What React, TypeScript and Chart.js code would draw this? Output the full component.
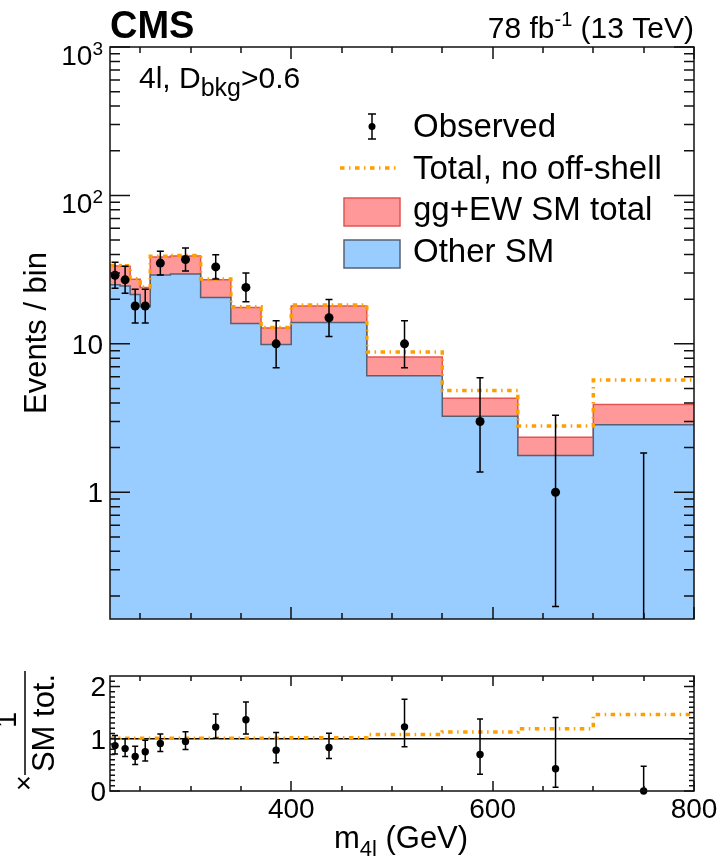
import React, { useEffect, useRef } from "react";
import { Chart, registerables } from "chart.js";

Chart.register(...registerables);

// ---------------- data ----------------
const binEdges = [220, 230, 240, 250, 260, 280, 310, 340, 370, 400, 475, 550, 625, 700, 800];
const otherSM = [25.0, 24.5, 21.5, 17.8, 29.1, 29.6, 20.5, 13.7, 9.9, 13.9, 6.1, 3.25, 1.77, 2.85];
const smTotal = [33.4, 33.3, 27.2, 24.0, 38.5, 39.0, 27.0, 17.6, 12.8, 18.0, 8.15, 4.3, 2.35, 3.9];
const totalNoOffShell = [33.7, 33.6, 27.5, 24.2, 38.9, 39.4, 27.3, 17.8, 12.9, 18.3, 8.8, 4.85, 2.8, 5.7];
const observed = [29, 27, 18, 18, 35, 37, 33, 24, 10, 15, 10, 3, 1, 0];
const obsLow = [23.7, 21.9, 13.8, 13.8, 29.1, 31.0, 27.3, 19.2, 6.9, 11.2, 6.9, 1.37, 0.17, 0];
const obsHigh = [35.5, 33.3, 23.3, 23.3, 42.0, 44.2, 39.8, 30.0, 14.3, 19.9, 14.3, 5.92, 3.3, 1.84];

const xMajorTicks = [400, 600, 800];
const xTickLabels = ["400", "600", "800"];
const xMinorTicks = [250, 300, 350, 450, 500, 550, 650, 700, 750];
const mainYMajor = [1, 10, 100, 1000];
const mainYLabelBase = ["1", "10", "10", "10"];
const mainYLabelExp = ["", "", "2", "3"];
const ratioYMajor = [0, 1, 2];
const ratioYLabels = ["0", "1", "2"];

// ---------------- styling ----------------
const FONT = '"Liberation Sans", Arial, Helvetica, sans-serif';
const RED_FILL = "rgb(255,153,153)";
const RED_LINE = "rgb(225,85,85)";
const BLUE_FILL = "rgb(153,204,255)";
const BLUE_LINE = "rgb(85,98,118)";
const ORANGE = "rgb(255,158,0)";
const ORANGE_DASH = [4.5, 4.5, 1.5, 4.5];

const binCenters = observed.map((_, i) => (binEdges[i] + binEdges[i + 1]) / 2);
const stepData = (vals: number[]) => {
  const pts = vals.map((v, i) => ({ x: binEdges[i], y: v }));
  pts.push({ x: binEdges[binEdges.length - 1], y: vals[vals.length - 1] });
  return pts;
};

type Part = { t: string; size: number; dy?: number; bold?: boolean };
function fontOf(p: Part) {
  return `${p.bold ? "bold " : ""}${p.size}px ${FONT}`;
}
function drawRich(ctx: CanvasRenderingContext2D, parts: Part[], x: number, y: number, align: "left" | "right" | "center") {
  let w = 0;
  for (const p of parts) {
    ctx.font = fontOf(p);
    w += ctx.measureText(p.t).width;
  }
  let cx = align === "left" ? x : align === "right" ? x - w : x - w / 2;
  ctx.textAlign = "left";
  ctx.textBaseline = "alphabetic";
  for (const p of parts) {
    ctx.font = fontOf(p);
    ctx.fillText(p.t, cx, y + (p.dy || 0));
    cx += ctx.measureText(p.t).width;
  }
}

function drawTicks(
  chart: any,
  cfg: { yMajor: number[]; yMinor: number[]; yMajLen: number; yMinLen: number; xMajLen: number; xMinLen: number }
) {
  const { ctx, chartArea: a, scales } = chart;
  const xs = scales.x;
  const ys = scales.y;
  ctx.save();
  ctx.strokeStyle = "#111";
  ctx.lineWidth = 1.5;
  ctx.beginPath();
  const xt = (v: number, len: number) => {
    const px = Math.round(xs.getPixelForValue(v));
    ctx.moveTo(px, a.bottom);
    ctx.lineTo(px, a.bottom - len);
    ctx.moveTo(px, a.top);
    ctx.lineTo(px, a.top + len);
  };
  const yt = (v: number, len: number) => {
    const py = ys.getPixelForValue(v);
    ctx.moveTo(a.left, py);
    ctx.lineTo(a.left + len, py);
    ctx.moveTo(a.right, py);
    ctx.lineTo(a.right - len, py);
  };
  xMinorTicks.forEach((v) => xt(v, cfg.xMinLen));
  xMajorTicks.forEach((v) => xt(v, cfg.xMajLen));
  cfg.yMinor.forEach((v) => yt(v, cfg.yMinLen));
  cfg.yMajor.forEach((v) => yt(v, cfg.yMajLen));
  ctx.stroke();
  ctx.strokeRect(a.left, a.top, a.right - a.left, a.bottom - a.top);
  ctx.restore();
}

const logMinor: number[] = [];
[0.1, 1, 10, 100].forEach((d) => {
  for (let k = 2; k <= 9; k++) if (d * k > 0.14 && d * k < 1000) logMinor.push(d * k);
});
const ratioMinor: number[] = [];
for (let k = 1; k <= 21; k++) if (k % 10 !== 0) ratioMinor.push(k / 10);

const mainPlugin = {
  id: "mainDecor",
  afterDatasetsDraw(chart: any) {
    const { ctx, chartArea: a, scales } = chart;
    const x = scales.x;
    const y = scales.y;
    ctx.save();
    ctx.beginPath();
    ctx.rect(a.left, a.top, a.right - a.left, a.bottom - a.top);
    ctx.clip();
    ctx.strokeStyle = "#000";
    ctx.lineWidth = 1.5;
    observed.forEach((_, i) => {
      const cx = x.getPixelForValue(binCenters[i]);
      const yHi = y.getPixelForValue(obsHigh[i]);
      const yLo = obsLow[i] > 0 ? y.getPixelForValue(obsLow[i]) : a.bottom + 10;
      ctx.beginPath();
      ctx.moveTo(cx, yLo);
      ctx.lineTo(cx, yHi);
      ctx.moveTo(cx - 3.5, yHi);
      ctx.lineTo(cx + 3.5, yHi);
      if (obsLow[i] > 0) {
        ctx.moveTo(cx - 3.5, yLo);
        ctx.lineTo(cx + 3.5, yLo);
      }
      ctx.stroke();
    });
    ctx.restore();
  },
  afterDraw(chart: any) {
    const { ctx, scales } = chart;
    drawTicks(chart, { yMajor: mainYMajor, yMinor: logMinor, yMajLen: 20, yMinLen: 10, xMajLen: 12, xMinLen: 6 });
    ctx.save();
    ctx.fillStyle = "#000";
    // y tick labels
    mainYMajor.forEach((v, i) => {
      const py = scales.y.getPixelForValue(v);
      if (mainYLabelExp[i]) {
        drawRich(ctx, [{ t: mainYLabelBase[i], size: 28 }, { t: mainYLabelExp[i], size: 19, dy: -10 }], 103, py + 18, "right");
      } else {
        drawRich(ctx, [{ t: mainYLabelBase[i], size: 28 }], 103, py + 10, "right");
      }
    });
    // header texts
    drawRich(ctx, [{ t: "CMS", size: 38, bold: true }], 110, 38, "left");
    drawRich(ctx, [{ t: "78 fb", size: 30 }, { t: "-1", size: 20, dy: -12 }, { t: " (13 TeV)", size: 30 }], 694, 38, "right");
    drawRich(ctx, [{ t: "4l, D", size: 30 }, { t: "bkg", size: 25, dy: 8 }, { t: ">0.6", size: 30 }], 139, 88, "left");
    // y title
    ctx.save();
    ctx.translate(46, 333);
    ctx.rotate(-Math.PI / 2);
    ctx.font = `31px ${FONT}`;
    ctx.textAlign = "center";
    ctx.textBaseline = "alphabetic";
    ctx.fillText("Events / bin", 0, 0);
    ctx.restore();
    // legend
    const tx = 413;
    drawRich(ctx, [{ t: "Observed", size: 33 }], tx, 137, "left");
    drawRich(ctx, [{ t: "Total, no off-shell", size: 33 }], tx, 178.5, "left");
    drawRich(ctx, [{ t: "gg+EW SM total", size: 33 }], tx, 220, "left");
    drawRich(ctx, [{ t: "Other SM", size: 33 }], tx, 261.5, "left");
    // observed symbol
    ctx.strokeStyle = "#000";
    ctx.lineWidth = 1.5;
    ctx.beginPath();
    ctx.moveTo(372, 114);
    ctx.lineTo(372, 139);
    ctx.moveTo(368, 114);
    ctx.lineTo(376, 114);
    ctx.moveTo(368, 139);
    ctx.lineTo(376, 139);
    ctx.stroke();
    ctx.beginPath();
    ctx.arc(372, 126.5, 3.5, 0, Math.PI * 2);
    ctx.fill();
    // orange line
    ctx.strokeStyle = ORANGE;
    ctx.lineWidth = 3.5;
    ctx.setLineDash(ORANGE_DASH);
    ctx.beginPath();
    ctx.moveTo(340, 168);
    ctx.lineTo(400, 168);
    ctx.stroke();
    ctx.setLineDash([]);
    // boxes
    ctx.lineWidth = 1.5;
    ctx.fillStyle = RED_FILL;
    ctx.fillRect(344, 198, 56, 28);
    ctx.strokeStyle = RED_LINE;
    ctx.strokeRect(344, 198, 56, 28);
    ctx.fillStyle = BLUE_FILL;
    ctx.fillRect(344, 240, 56, 28);
    ctx.strokeStyle = BLUE_LINE;
    ctx.strokeRect(344, 240, 56, 28);
    ctx.restore();
  },
};

const ratioObs = observed.map((n, i) => n / smTotal[i]);
const ratioLow = obsLow.map((v, i) => v / smTotal[i]);
const ratioHigh = obsHigh.map((v, i) => v / smTotal[i]);
const ratioNoOff = totalNoOffShell.map((v, i) => v / smTotal[i]);

const ratioPlugin = {
  id: "ratioDecor",
  afterDatasetsDraw(chart: any) {
    const { ctx, scales } = chart;
    const x = scales.x;
    const y = scales.y;
    ctx.save();
    ctx.strokeStyle = "#000";
    ctx.lineWidth = 1.5;
    observed.forEach((_, i) => {
      const cx = x.getPixelForValue(binCenters[i]);
      const yHi = y.getPixelForValue(ratioHigh[i]);
      const yLo = y.getPixelForValue(ratioLow[i]);
      ctx.beginPath();
      ctx.moveTo(cx, yLo);
      ctx.lineTo(cx, yHi);
      ctx.moveTo(cx - 3, yHi);
      ctx.lineTo(cx + 3, yHi);
      ctx.moveTo(cx - 3, yLo);
      ctx.lineTo(cx + 3, yLo);
      ctx.stroke();
    });
    ctx.restore();
  },
  afterDraw(chart: any) {
    const { ctx, scales } = chart;
    drawTicks(chart, { yMajor: ratioYMajor, yMinor: ratioMinor, yMajLen: 10, yMinLen: 5, xMajLen: 10, xMinLen: 5 });
    ctx.save();
    ctx.fillStyle = "#000";
    ratioYMajor.forEach((v, i) => {
      const py = scales.y.getPixelForValue(v);
      drawRich(ctx, [{ t: ratioYLabels[i], size: 28 }], 106, py + 10, "right");
    });
    xMajorTicks.forEach((v, i) => {
      const px = scales.x.getPixelForValue(v);
      drawRich(ctx, [{ t: xTickLabels[i], size: 28 }], px, 168, "center");
    });
    drawRich(ctx, [{ t: "m", size: 31 }, { t: "4l", size: 22, dy: 8 }, { t: " (GeV)", size: 31 }], 401, 198, "center");
    // ratio y title
    ctx.save();
    ctx.rotate(-Math.PI / 2);
    ctx.font = `31px ${FONT}`;
    ctx.textAlign = "center";
    ctx.textBaseline = "alphabetic";
    ctx.fillText("SM tot.", -73, 54);
    ctx.font = `29px ${FONT}`;
    ctx.fillText("1", -70, 16);
    ctx.font = `27px ${FONT}`;
    ctx.textBaseline = "middle";
    ctx.fillText("\u00d7", -133, 26);
    ctx.strokeStyle = "#000";
    ctx.lineWidth = 1.5;
    ctx.beginPath();
    ctx.moveTo(-125, 25);
    ctx.lineTo(-21, 25);
    ctx.stroke();
    ctx.restore();
    ctx.restore();
  },
};

export default function App() {
  const mainRef = useRef<HTMLCanvasElement>(null);
  const ratioRef = useRef<HTMLCanvasElement>(null);

  useEffect(() => {
    const main = new Chart(mainRef.current as HTMLCanvasElement, {
      type: "line",
      data: {
        datasets: [
          {
            label: "gg+EW SM total",
            data: stepData(smTotal),
            stepped: "before",
            fill: "start",
            backgroundColor: RED_FILL,
            borderColor: RED_LINE,
            borderWidth: 1.5,
            pointRadius: 0,
            order: 4,
          } as any,
          {
            label: "Other SM",
            data: stepData(otherSM),
            stepped: "before",
            fill: "start",
            backgroundColor: BLUE_FILL,
            borderColor: BLUE_LINE,
            borderWidth: 1.5,
            pointRadius: 0,
            order: 3,
          },
          {
            label: "Total, no off-shell",
            data: stepData(totalNoOffShell),
            stepped: "before",
            fill: false,
            borderColor: ORANGE,
            borderWidth: 3.5,
            borderDash: ORANGE_DASH,
            pointRadius: 0,
            order: 2,
          },
          {
            label: "Observed",
            data: observed.map((v, i) => ({ x: binCenters[i], y: v })).filter((p) => p.y > 0),
            showLine: false,
            pointRadius: 4.5,
            pointBackgroundColor: "#000",
            pointBorderWidth: 0,
            order: 1,
          },
        ],
      },
      options: {
        responsive: false,
        animation: false,
        devicePixelRatio: 1,
        events: [],
        layout: { padding: { left: 110, right: 28, top: 47, bottom: 31 } },
        scales: {
          x: { type: "linear", min: 220, max: 800, display: false },
          y: { type: "logarithmic", min: 0.14, max: 1000, display: false },
        },
        plugins: { legend: { display: false }, tooltip: { enabled: false } },
      },
      plugins: [mainPlugin],
    });

    const ratio = new Chart(ratioRef.current as HTMLCanvasElement, {
      type: "line",
      data: {
        datasets: [
          {
            label: "unity",
            data: [
              { x: 220, y: 1 },
              { x: 800, y: 1 },
            ],
            borderColor: "#000",
            borderWidth: 1.3,
            pointRadius: 0,
            fill: false,
            order: 4,
          },
          {
            label: "Total, no off-shell",
            data: stepData(ratioNoOff),
            stepped: "before",
            fill: false,
            borderColor: ORANGE,
            borderWidth: 3.5,
            borderDash: ORANGE_DASH,
            pointRadius: 0,
            order: 3,
          } as any,
          {
            label: "Observed",
            data: ratioObs.map((v, i) => ({ x: binCenters[i], y: v })),
            showLine: false,
            pointRadius: 3.7,
            pointBackgroundColor: "#000",
            pointBorderWidth: 0,
            clip: false,
            order: 1,
          } as any,
        ],
      },
      options: {
        responsive: false,
        animation: false,
        devicePixelRatio: 1,
        events: [],
        layout: { padding: { left: 110, right: 28, top: 26, bottom: 76 } },
        scales: {
          x: { type: "linear", min: 220, max: 800, display: false },
          y: { type: "linear", min: 0, max: 2.2, display: false },
        },
        plugins: { legend: { display: false }, tooltip: { enabled: false } },
      },
      plugins: [ratioPlugin],
    });

    return () => {
      main.destroy();
      ratio.destroy();
    };
  }, []);

  return (
    <div style={{ position: "absolute", left: 0, top: 0, width: 722, height: 867, background: "#fff" }}>
      <canvas
        ref={mainRef}
        width={722}
        height={650}
        style={{ position: "absolute", left: 0, top: 0, width: 722, height: 650, display: "block" }}
      />
      <canvas
        ref={ratioRef}
        width={722}
        height={217}
        style={{ position: "absolute", left: 0, top: 650, width: 722, height: 217, display: "block" }}
      />
    </div>
  );
}
